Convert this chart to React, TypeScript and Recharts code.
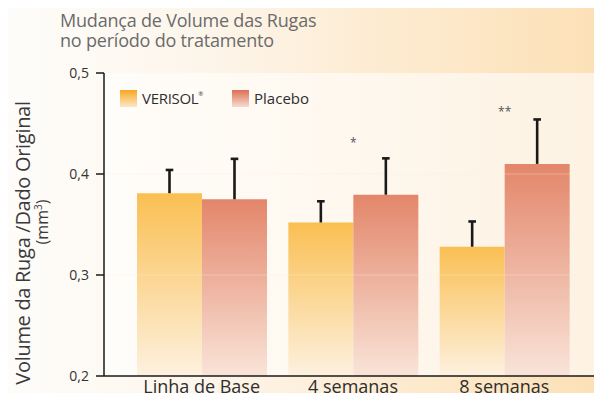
import React from 'react';
import { BarChart, Bar, XAxis, YAxis, CartesianGrid, LabelList, ReferenceLine } from 'recharts';

const categories = ['Linha de Base', '4 semanas', '8 semanas'];
const verisolValues = [0.381, 0.352, 0.328];
const verisolErrors = [0.023, 0.021, 0.025];
const placeboValues = [0.375, 0.3795, 0.41];
const placeboErrors = [0.04, 0.036, 0.044];
const significance = ['', '*', '**'];
const yTicks = [0.2, 0.3, 0.4, 0.5];
const seriesNames = ['VERISOL', 'Placebo'];

const data = categories.map((c, i) => ({
  category: c,
  verisol: verisolValues[i],
  verisolErr: verisolErrors[i],
  placebo: placeboValues[i],
  placeboErr: placeboErrors[i],
  sig: significance[i],
}));

const FONT = '"Open Sans", "Noto Sans", sans-serif';
const DOMAIN_MIN = yTicks[0];

const makeErrorContent = (valueKey: 'verisol' | 'placebo') => (props: any) => {
  const { x, y, width, height, value, index } = props;
  const v = data[index][valueKey];
  const pxPerUnit = height / (v - DOMAIN_MIN);
  const errPx = value * pxPerUnit;
  const cx = x + width / 2;
  const top = y - errPx;
  return (
    <g>
      <line x1={cx} y1={y} x2={cx} y2={top} stroke="#1a1a1a" strokeWidth={2.6} />
      <line x1={cx - 3.8} y1={top} x2={cx + 3.8} y2={top} stroke="#1a1a1a" strokeWidth={2.6} />
    </g>
  );
};

const sigContent = (props: any) => {
  const { x, y, value } = props;
  if (!value) return null;
  return (
    <text x={x} y={y - 48} textAnchor="middle" fontSize={12} fill="#555" fontFamily={FONT}>
      {value}
    </text>
  );
};

const XTick = (props: any) => {
  const { x, y, payload } = props;
  return (
    <text x={x} y={y + 17} textAnchor="middle" fontSize={18} fill="#2e2e2e" fontFamily={FONT}>
      {payload.value}
    </text>
  );
};

const YLabel = () => (
  <g>
    <text
      transform="translate(30, 243) rotate(-90)"
      textAnchor="middle"
      fontSize={20}
      fill="#3a3a3a"
      fontFamily={FONT}
      letterSpacing={-0.3}
    >
      Volume da Ruga /Dado Original
    </text>
    <text
      transform="translate(48, 222) rotate(-90)"
      textAnchor="middle"
      fontSize={16}
      fill="#3a3a3a"
      fontFamily={FONT}
    >
      (mm<tspan dy={-6} fontSize={10}>3</tspan><tspan dy={6}>)</tspan>
    </text>
  </g>
);

const LegendSwatch = ({ grad }: { grad: string }) => (
  <div style={{ width: 17, height: 17, background: grad }} />
);

export default function App() {
  return (
    <div
      style={{
        position: 'relative',
        width: 602,
        height: 401,
        margin: -8,
        overflow: 'hidden',
        background: 'linear-gradient(to right, #fefdfb 0%, #fdf5ea 35%, #fdebd0 65%, #fce0b6 100%)',
        fontFamily: FONT,
      }}
    >
      <div
        style={{
          position: 'absolute',
          left: 60,
          top: 10,
          fontSize: 18,
          lineHeight: '20px',
          color: '#6b6b6b',
          letterSpacing: -0.2,
          whiteSpace: 'nowrap',
        }}
      >
        <div>Mudança de Volume das Rugas</div>
        <div>no período do tratamento</div>
      </div>
      <BarChart
        width={602}
        height={401}
        data={data}
        margin={{ top: 73, right: 0, bottom: 0, left: 0 }}
        barCategoryGap={11}
        barGap={0}
        style={{ position: 'absolute', left: 0, top: 0 }}
      >
        <defs>
          <linearGradient id="panelGrad" x1="0" y1="0" x2="1" y2="0">
            <stop offset="0%" stopColor="#fffdfa" />
            <stop offset="100%" stopColor="#fdf2e2" />
          </linearGradient>
          <linearGradient id="verisolGrad" x1="0" y1="0" x2="0" y2="1">
            <stop offset="0%" stopColor="#fabf52" />
            <stop offset="100%" stopColor="#fdf1df" />
          </linearGradient>
          <linearGradient id="placeboGrad" x1="0" y1="0" x2="0" y2="1">
            <stop offset="0%" stopColor="#e3866a" />
            <stop offset="100%" stopColor="#f9e4d9" />
          </linearGradient>
        </defs>
        <CartesianGrid fill="url(#panelGrad)" horizontal={false} vertical={false} />
        <XAxis
          dataKey="category"
          height={25}
          padding={{ left: 22, right: 22 }}
          axisLine={{ stroke: '#1a1a1a', strokeWidth: 1.5 }}
          tickLine={false}
          tickSize={0}
          tickMargin={0}
          tick={<XTick />}
          interval={0}
        />
        <YAxis
          width={104}
          domain={[yTicks[0], yTicks[yTicks.length - 1]]}
          ticks={yTicks}
          allowDataOverflow
          axisLine={{ stroke: '#1a1a1a', strokeWidth: 1.5 }}
          tickLine={{ stroke: '#1a1a1a', strokeWidth: 1.5 }}
          tickSize={8}
          tickMargin={7}
          tick={{ fontSize: 14, fill: '#333', fontFamily: FONT }}
          tickFormatter={(v: number) => v.toFixed(1).replace('.', ',')}
          label={{ content: () => <YLabel /> }}
        />
        <Bar dataKey="verisol" name={seriesNames[0]} fill="url(#verisolGrad)" isAnimationActive={false}>
          <LabelList dataKey="verisolErr" content={makeErrorContent('verisol')} />
        </Bar>
        <Bar dataKey="placebo" name={seriesNames[1]} fill="url(#placeboGrad)" isAnimationActive={false}>
          <LabelList dataKey="placeboErr" content={makeErrorContent('placebo')} />
          <LabelList dataKey="sig" content={sigContent} />
        </Bar>
        <ReferenceLine y={0.3} stroke="rgba(255,235,215,0.35)" strokeWidth={1} />
        <ReferenceLine y={0.4} stroke="rgba(255,235,215,0.35)" strokeWidth={1} />
      </BarChart>
      <div
        style={{
          position: 'absolute',
          left: 120,
          top: 88,
          display: 'flex',
          alignItems: 'center',
          fontSize: 15,
          color: '#2e2e2e',
        }}
      >
        <LegendSwatch grad="linear-gradient(to bottom, #f7a823, #fde6c4)" />
        <span style={{ marginLeft: 5, letterSpacing: -0.3 }}>
          {seriesNames[0]}
          <sup style={{ fontSize: 6, verticalAlign: 8 }}>®</sup>
        </span>
        <div style={{ width: 29 }} />
        <LegendSwatch grad="linear-gradient(to bottom, #dd6f53, #f7dccf)" />
        <span style={{ marginLeft: 5 }}>{seriesNames[1]}</span>
      </div>
    </div>
  );
}
